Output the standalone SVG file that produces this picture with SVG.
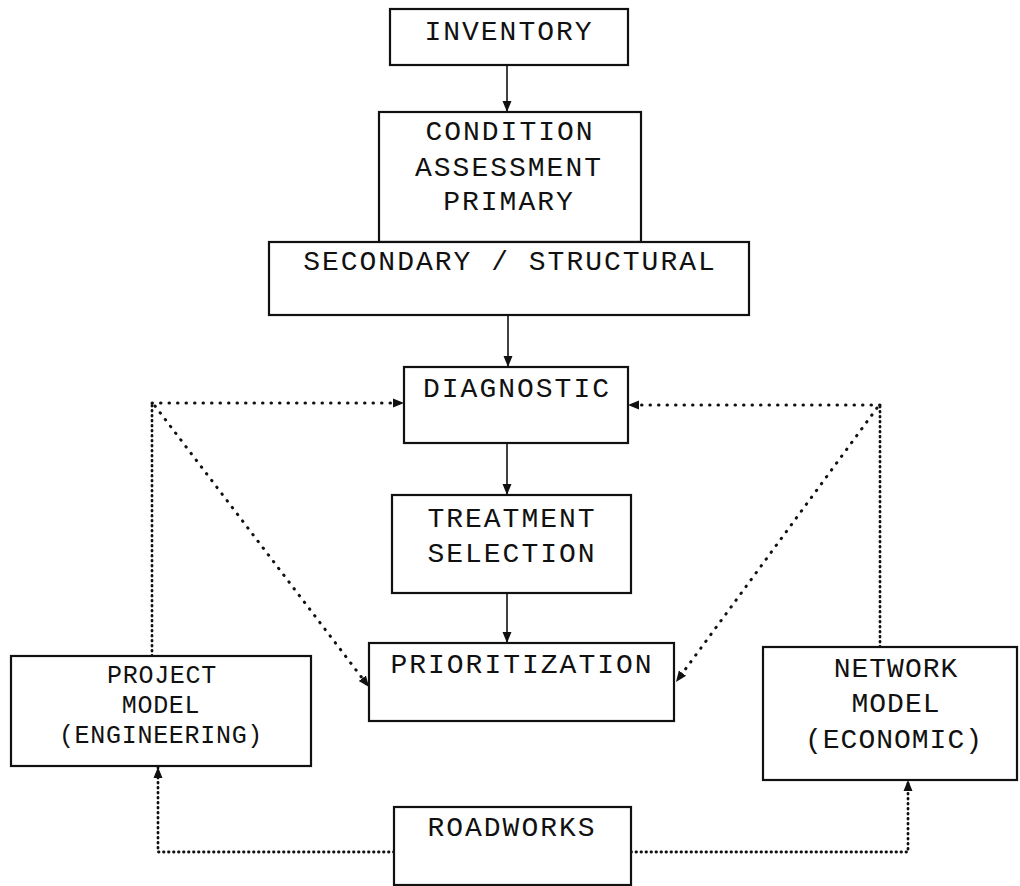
<svg xmlns="http://www.w3.org/2000/svg" width="1020" height="886" viewBox="0 0 1020 886">
<style>
.box{fill:#fff;stroke:#111;stroke-width:2.2}
.t{font-family:"Liberation Mono","DejaVu Sans Mono",monospace;font-size:28px;letter-spacing:2px;fill:#111;text-anchor:middle}
.s{font-size:25px;letter-spacing:0.7px}
.n{font-size:28px;letter-spacing:1px}
.solid{fill:none;stroke:#111;stroke-width:1.6}
.dot{fill:none;stroke:#111;stroke-width:3;stroke-linecap:round;stroke-dasharray:0.5 8}
.dense{fill:none;stroke:#111;stroke-width:2.8;stroke-linecap:round;stroke-dasharray:0.5 4.5}
</style>
<defs>
<marker id="ah" markerUnits="userSpaceOnUse" markerWidth="12" markerHeight="12" viewBox="0 0 12 12" refX="11" refY="6" orient="auto">
<path d="M0,1.5 L11,6 L0,10.5 Z" fill="#111"/>
</marker>
</defs>
<rect width="1020" height="886" fill="#fff"/>
<g id="connectors">
<line class="solid" x1="507" y1="65" x2="507" y2="112" marker-end="url(#ah)"/>
<line class="solid" x1="508" y1="315" x2="508" y2="367" marker-end="url(#ah)"/>
<line class="solid" x1="507" y1="443" x2="507" y2="495" marker-end="url(#ah)"/>
<line class="solid" x1="507" y1="593" x2="507" y2="643" marker-end="url(#ah)"/>
<line class="dense" x1="152" y1="656" x2="152" y2="403"/>
<line class="dot" x1="152" y1="403" x2="404" y2="403" marker-end="url(#ah)"/>
<line class="dot" x1="155" y1="406" x2="369" y2="687" marker-end="url(#ah)"/>
<line class="dense" x1="880" y1="647" x2="880" y2="405"/>
<line class="dot" x1="880" y1="405" x2="628" y2="405" marker-end="url(#ah)"/>
<line class="dot" x1="877" y1="408" x2="676" y2="682" marker-end="url(#ah)"/>
<path class="dense" d="M394,852 H158 V767" marker-end="url(#ah)"/>
<path class="dense" d="M631,852 H908 V780" marker-end="url(#ah)"/>
</g>
<g id="inventory">
<rect class="box" x="390" y="9" width="238" height="56"/>
<text class="t" x="509" y="40">INVENTORY</text>
</g>
<g id="condition">
<rect class="box" x="379" y="112" width="262" height="130"/>
<text class="t" x="510" y="140">CONDITION</text>
<text class="t" x="509" y="176">ASSESSMENT</text>
<text class="t" x="509" y="210">PRIMARY</text>
</g>
<g id="secondary">
<rect class="box" x="269" y="242" width="480" height="73"/>
<text class="t" x="510" y="270">SECONDARY / STRUCTURAL</text>
</g>
<g id="diagnostic">
<rect class="box" x="404" y="367" width="224" height="76"/>
<text class="t" x="517" y="397">DIAGNOSTIC</text>
</g>
<g id="treatment">
<rect class="box" x="392" y="495" width="239" height="98"/>
<text class="t" x="512" y="527">TREATMENT</text>
<text class="t" x="512" y="562">SELECTION</text>
</g>
<g id="prioritization">
<rect class="box" x="369" y="643" width="305" height="78"/>
<text class="t" x="522" y="673">PRIORITIZATION</text>
</g>
<g id="project-model">
<rect class="box" x="11" y="656" width="300" height="110"/>
<text class="t s" x="162" y="683">PROJECT</text>
<text class="t s" x="161" y="713">MODEL</text>
<text class="t s" x="161" y="743">(ENGINEERING)</text>
</g>
<g id="network-model">
<rect class="box" x="763" y="647" width="254" height="133"/>
<text class="t n" x="896" y="677">NETWORK</text>
<text class="t n" x="896" y="712">MODEL</text>
<text class="t n" x="894" y="748">(ECONOMIC)</text>
</g>
<g id="roadworks">
<rect class="box" x="394" y="807" width="237" height="78"/>
<text class="t" x="512" y="836">ROADWORKS</text>
</g>
</svg>
